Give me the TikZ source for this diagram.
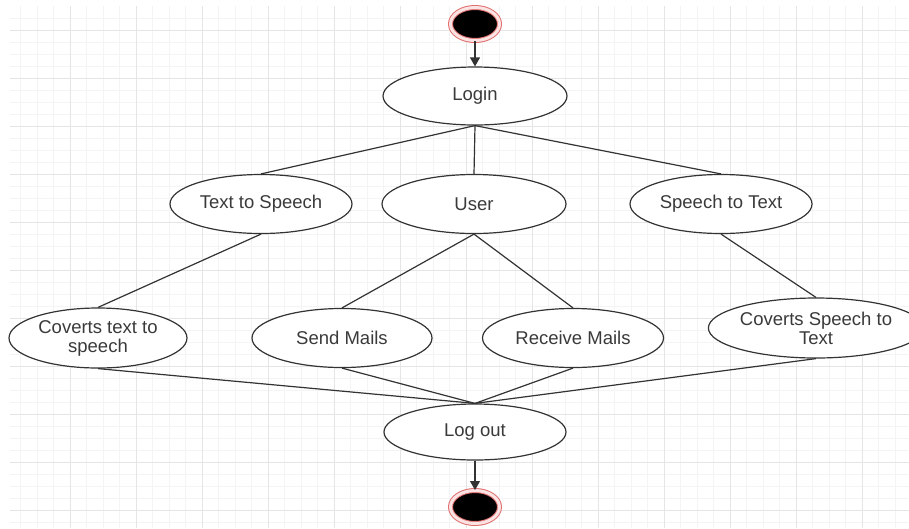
\documentclass[tikz,border=0pt]{standalone}
\usepackage{fontspec}
\setmainfont{Liberation Sans}
\usetikzlibrary{arrows.meta, shapes.geometric}
\definecolor{gridminor}{HTML}{F4F4F4}
\definecolor{gridmajor}{HTML}{E5E5E5}
\definecolor{edgegray}{HTML}{333333}
\definecolor{labelgray}{HTML}{3A3A3A}
\definecolor{ringred}{HTML}{E07070}
\definecolor{ringpink}{HTML}{FBE3E3}

\begin{document}
\begin{tikzpicture}[x=1pt, y=-1pt,
    usecase/.style={ellipse, draw=edgegray, line width=1.2pt, fill=white,
      inner sep=0pt, align=center, text=labelgray,
      font=\fontsize{18.5}{19}\selectfont},
    terminal/.style={ellipse, fill=black, draw=ringred, line width=1pt,
      double=ringpink, double distance=3pt, inner sep=0pt,
      minimum width=49pt, minimum height=33pt},
    link/.style={draw=edgegray, line width=1.2pt},
    flow/.style={link, -{Triangle[length=9pt, width=10pt]}}]

  % Canvas
  \useasboundingbox (0,0) rectangle (909,528);
  \fill[white] (0,0) rectangle (909,528);

  % Grid
  \foreach \gx in {20.5,37,...,905}
    \draw[gridminor, line width=0.8pt] (\gx,6) -- (\gx,528);
  \foreach \gy in {18,30,...,528}
    \draw[gridminor, line width=0.8pt] (10,\gy) -- (909,\gy);
  \foreach \gx in {70,136,...,905}
    \draw[gridmajor, line width=1pt] (\gx,6) -- (\gx,528);
  \foreach \gy in {30,78,...,528}
    \draw[gridmajor, line width=1pt] (10,\gy) -- (909,\gy);

  % Start and end
  \node[terminal] (start) at (475,24) {};
  \node[terminal] (stop) at (475,507) {};

  % Use cases
  \node[usecase, minimum width=184pt, minimum height=58pt] (login) at (475,96) {Login};
  \node[usecase, minimum width=182pt, minimum height=59pt] (tts) at (261,204) {Text to Speech};
  \node[usecase, minimum width=184pt, minimum height=59pt] (user) at (474,204) {User};
  \node[usecase, minimum width=182pt, minimum height=59pt] (stt) at (721,204) {Speech to Text};
  \node[usecase, minimum width=178pt, minimum height=60pt] (cvtts) at (98,338) {Coverts text to\\speech};
  \node[usecase, minimum width=180pt, minimum height=59pt] (send) at (342,338) {Send Mails};
  \node[usecase, minimum width=181pt, minimum height=59pt] (recv) at (573,338) {Receive Mails};
  \node[usecase, minimum width=178pt, minimum height=60pt] (cvstt) at (816,328) {Coverts Speech to\\Text};
  \node[usecase, minimum width=182pt, minimum height=56pt] (logout) at (475,432) {Log out};

  % Arrows
  \draw[flow] (start) -- (login);
  \draw[flow] (logout) -- (stop);

  % Links
  \foreach \a/\b in {login/tts, login/user, login/stt, tts/cvtts, user/send,
    user/recv, stt/cvstt, cvtts/logout, send/logout, recv/logout, cvstt/logout}
    \draw[link] (\a.south) -- (\b.north);
\end{tikzpicture}
\end{document}
